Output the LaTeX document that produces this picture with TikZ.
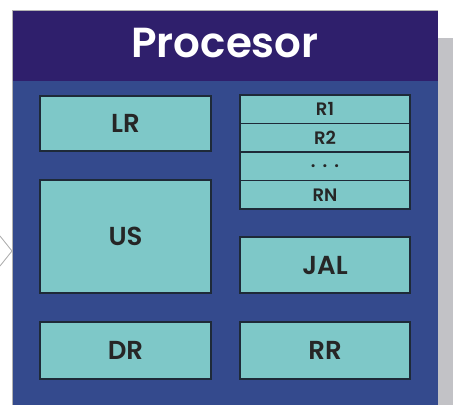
\documentclass[tikz,border=0pt]{standalone}
\usepackage{fontspec}
\setmainfont{Poppins}[BoldFont={Poppins SemiBold}]
\usetikzlibrary{positioning}
\definecolor{headcol}{HTML}{2F1F6C}
\definecolor{bodycol}{HTML}{344A8D}
\definecolor{boxcol}{HTML}{7EC8C8}
\definecolor{edgecol}{HTML}{1E2A38}
\definecolor{shadecol}{HTML}{C2C2C6}

\begin{document}
\begin{tikzpicture}[x=1pt, y=-1pt]
  \tikzstyle{unit} = [rectangle, draw=edgecol, line width=1.1pt, fill=boxcol, text=black!85, font=\fontsize{26}{26}\selectfont\bfseries, inner sep=0pt, outer sep=0pt]
  \tikzstyle{reg} = [unit, minimum width=170pt, minimum height=28.5pt, font=\fontsize{18}{18}\selectfont\bfseries]

  \useasboundingbox (0,0) rectangle (453,405);
  % shadow and frame
  \fill[shadecol] (438,38) rectangle (453,405);
  \fill[bodycol] (12,10) rectangle (438,405);
  \fill[headcol] (12,10) rectangle (438,81);
  \draw[gray!60, line width=0.8pt] (12,405) -- (12,10) -- (438,10);
  \node[text=white, font=\fontsize{42}{42}\selectfont\bfseries] (title) at (225,43) {Procesor};

  \node[unit, minimum width=171pt, minimum height=55pt] (lr) at (125.5,123.5) {LR};
  \node[unit, minimum width=171pt, minimum height=113pt] (us) at (125.5,236.5) {US};
  \node[unit, minimum width=171pt, minimum height=57pt] (dr) at (125.5,350.5) {DR};

  \node[reg] (r1) at (325,109.25) {R1};
  \node[reg, below=0pt of r1] (r2) {R2};
  \node[reg, below=0pt of r2] (rdots) {.\hspace{7pt}.\hspace{7pt}.};
  \node[reg, below=0pt of rdots] (rn) {RN};
  \node[unit, minimum width=170pt, minimum height=56pt] (jal) at (325,265) {JAL};
  \node[unit, minimum width=170pt, minimum height=57pt] (rr) at (325,350.5) {RR};

  % incoming arrow tip
  \coordinate (tip) at (12,251);
  \draw[gray!60, line width=0.9pt] (0,236) -- (tip) -- (0,266);
\end{tikzpicture}
\end{document}
